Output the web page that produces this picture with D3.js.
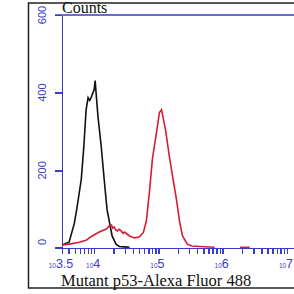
<!DOCTYPE html>
<html>
<head>
<meta charset="utf-8">
<script src="https://cdn.jsdelivr.net/npm/d3@7"></script>
<style>
  body { margin: 0; background: #fff; }
  .axis path, .axis line { stroke: #3b3bc9; stroke-width: 1.5; shape-rendering: crispEdges; }
  .lbl { fill: #3b3bc9; font-family: "Liberation Sans", Arial, sans-serif; }
</style>
</head>
<body>
<div id="chart"></div>
<script>
// counts vs. log10 intensity (Alexa Fluor 488)
const yTicks = [0, 200, 400, 600];
const xMajor = [3.5, 4, 5, 6, 7];
const xMajorLabels = ['3.5', '4', '5', '6', '7'];

// isotype / control (black)
const blackLog = [3.5, 3.61, 3.69, 3.73, 3.80, 3.84, 3.875, 3.906, 3.93, 3.953, 3.97, 4.0, 4.016, 4.03,
  4.06, 4.11, 4.156, 4.20, 4.25, 4.28, 4.34, 4.39, 4.47, 4.55];
const blackCount = [8, 15, 62, 100, 177, 262, 356, 387, 380, 387, 395, 408, 431, 400,
  338, 262, 177, 100, 56, 31, 10, 4, 3, 2];

// mutant p53 stained (red)
const redLog = [3.5, 3.61, 3.77, 3.875, 3.97, 4.08, 4.19, 4.23, 4.27, 4.29, 4.31, 4.34, 4.36, 4.39, 4.42,
  4.45, 4.47, 4.55, 4.625, 4.70, 4.766, 4.8125, 4.86, 4.906, 4.97, 5.016, 5.047, 5.0625, 5.11, 5.17,
  5.22, 5.28, 5.33, 5.375, 5.45, 5.52, 5.64, 5.875, 5.9, 6.27, 6.42];
const redCount = [8, 10, 15, 20, 31, 41, 49, 56, 59, 51, 54, 46, 44, 48, 44,
  38, 41, 31, 26, 28, 40, 70, 144, 228, 297, 349, 356, 344, 305, 236,
  185, 126, 67, 31, 10, 5, 4, 2, null, 2, 2];

const W = 294, H = 294;
const plot = { left: 62, right: 294, top: 15, bottom: 248 };

const svg = d3.select('#chart').append('svg')
  .attr('width', W)
  .attr('height', H);

// outer frame
svg.append('rect')
  .attr('x', 28.5).attr('y', 3)
  .attr('width', 300).attr('height', 285)
  .attr('fill', 'none')
  .attr('stroke', '#222')
  .attr('stroke-width', 1.5);

const x = d3.scaleLinear()
  .domain([3.5, 4 + (plot.right - 95) / 64])
  .range([plot.left, plot.right]);

const y = d3.scaleLinear()
  .domain([0, 600])
  .range([plot.bottom, plot.top]);

// minor ticks 2..9 of each decade
const xMinor = [];
for (let e = 3; e <= 7; e++) {
  for (let k = 1; k <= 9; k++) {
    const v = e + Math.log10(k);
    if (v >= 3.5 && v <= x.domain()[1]) xMinor.push(v);
  }
}
xMinor.unshift(3.5);

const xAxis = svg.append('g')
  .attr('class', 'x axis')
  .attr('transform', `translate(0,${plot.bottom})`)
  .call(d3.axisBottom(x).tickValues(xMinor).tickSize(6).tickSizeOuter(0).tickFormat(''));

// extend axis line a little to the left, like the 0 tick
xAxis.append('line')
  .attr('x1', plot.left - 7).attr('x2', plot.left)
  .attr('y1', 0).attr('y2', 0);

svg.append('g')
  .attr('class', 'y axis')
  .attr('transform', `translate(${plot.left},0)`)
  .call(d3.axisLeft(y).tickValues(yTicks).tickSize(7).tickSizeOuter(0).tickFormat(''));

// top border line
svg.append('line')
  .attr('class', 'topline')
  .attr('x1', plot.left - 7).attr('x2', plot.right)
  .attr('y1', plot.top).attr('y2', plot.top)
  .attr('stroke', '#3b3bc9')
  .attr('stroke-width', 1.5);

// y labels rotated
svg.append('g').selectAll('text')
  .data(yTicks)
  .enter().append('text')
  .attr('class', 'lbl')
  .attr('font-size', 11)
  .attr('text-anchor', 'middle')
  .attr('transform', d => `translate(46,${Math.min(y(d), 242)}) rotate(-90)`)
  .text(d => d);

// x labels: small "10" then exponent
const xl = svg.append('g').selectAll('text')
  .data(xMajor)
  .enter().append('text')
  .attr('class', 'lbl')
  .attr('text-anchor', 'middle')
  .attr('x', d => x(d) - 1)
  .attr('y', 268);
xl.append('tspan').attr('font-size', 6.5).text('10');
xl.append('tspan').attr('font-size', 12.5).text((d, i) => xMajorLabels[i]);

// curves
const line = d3.line()
  .defined(d => d[1] !== null)
  .x(d => x(d[0]))
  .y(d => y(d[1]));

svg.append('path')
  .datum(blackLog.map((v, i) => [v, blackCount[i]]))
  .attr('fill', 'none')
  .attr('stroke', '#111')
  .attr('stroke-width', 1.6)
  .attr('d', line);

svg.append('path')
  .datum(redLog.map((v, i) => [v, redCount[i]]))
  .attr('fill', 'none')
  .attr('stroke', '#d41f33')
  .attr('stroke-width', 1.6)
  .attr('d', line);

// titles
svg.append('text')
  .attr('x', 62).attr('y', 13)
  .attr('font-family', '"Liberation Serif", "Times New Roman", serif')
  .attr('font-size', 16)
  .attr('fill', '#111')
  .text('Counts');

svg.append('text')
  .attr('x', 61).attr('y', 286)
  .attr('font-family', '"Liberation Serif", "Times New Roman", serif')
  .attr('font-size', 16.5)
  .attr('fill', '#111')
  .text('Mutant p53-Alexa Fluor 488');
</script>
</body>
</html>
